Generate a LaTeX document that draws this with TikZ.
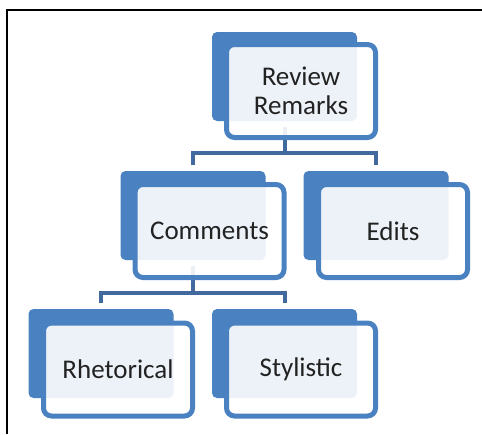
\documentclass[tikz,border=0pt]{standalone}
\usepackage{fontspec}
\setmainfont{Carlito}
\definecolor{darkfill}{HTML}{4A81C0}
\definecolor{frontline}{HTML}{4A81C0}
\definecolor{connblue}{HTML}{41699D}
\definecolor{txt}{HTML}{222222}
\begin{document}
\begin{tikzpicture}[x=1pt,y=-1pt,
  backbox/.style={fill=darkfill, draw=none, rounded corners=5pt, minimum width=145pt, minimum height=89pt, inner sep=0pt, outer sep=0pt},
  frontbox/.style={draw=frontline, line width=5pt, fill=white, fill opacity=0.9, text opacity=1, text=txt, rounded corners=8pt, minimum width=149pt, minimum height=93pt, inner sep=0pt, outer sep=0pt, align=center, font=\fontsize{27}{29}\selectfont},
  conn/.style={draw=connblue, line width=4pt}]
\useasboundingbox (0,0) rectangle (482,434);
\draw[line width=2pt, black] (7,434) -- (7,10) -- (482,10);
% back boxes
\node[backbox] (revb) at (284.5,76.5) {};
\node[backbox] (comb) at (193,215.5) {};
\node[backbox] (edib) at (376,215.5) {};
\node[backbox] (rheb) at (101,353.5) {};
\node[backbox] (styb) at (284.5,353.5) {};
% connectors
\draw[conn] ([yshift=-6pt]revb.south) -- ([yshift=-32pt]revb.south) -| ([yshift=6pt]comb.north);
\draw[conn] ([yshift=-32pt]revb.south) -| ([yshift=6pt]edib.north);
\draw[conn] ([yshift=-6pt]comb.south) -- ([yshift=-33pt]comb.south) -| ([yshift=6pt]rheb.north);
\draw[conn] ([yshift=-33pt]comb.south) -| ([yshift=6pt]styb.north);
% front boxes
\node[frontbox] (rev) at (301,91) {Review\\Remarks};
\node[frontbox] (com) at (209.5,231) {Comments};
\node[frontbox] (edi) at (393,231) {Edits};
\node[frontbox] (rhe) at (118,369.5) {Rhetorical};
\node[frontbox] (sty) at (301,369.5) {Stylistic};
\end{tikzpicture}
\end{document}
